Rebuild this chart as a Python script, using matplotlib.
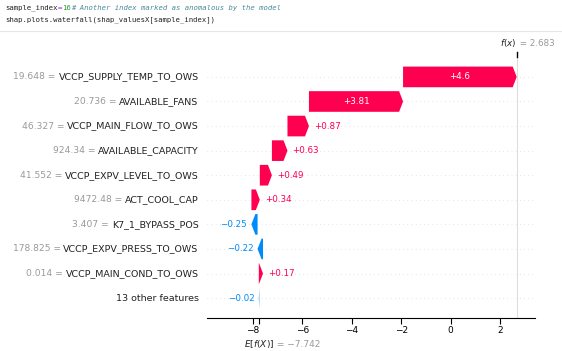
import numpy as np
import matplotlib
matplotlib.use("Agg")
import matplotlib.pyplot as plt
from matplotlib.patches import FancyArrow

# data (top row first)
features = ["VCCP_SUPPLY_TEMP_TO_OWS", "AVAILABLE_FANS", "VCCP_MAIN_FLOW_TO_OWS",
            "AVAILABLE_CAPACITY", "VCCP_EXPV_LEVEL_TO_OWS", "ACT_COOL_CAP",
            "K7_1_BYPASS_POS", "VCCP_EXPV_PRESS_TO_OWS", "VCCP_MAIN_COND_TO_OWS",
            "13 other features"]
feature_vals = ["19.648", "20.736", "46.327", "924.34", "41.552", "9472.48",
                "3.407", "178.825", "0.014", ""]
shap_vals = [4.6, 3.81, 0.87, 0.63, 0.49, 0.34, -0.25, -0.22, 0.17, -0.02]
base_value = -7.742
fx = 2.683
xticks = [-8, -6, -4, -2, 0, 2]

RED = "#ff0051"
BLUE = "#008bfb"
GRAY = "#999999"

fig = plt.figure(figsize=(5.62, 3.51), dpi=100)

# notebook code cell text
mono = "DejaVu Sans Mono"
fig.text(0.009, 0.977, "sample_index", family=mono, fontsize=5.2, va="center", color="#222222")
fig.text(0.009 + 12 * 0.00785, 0.977, "=", family=mono, fontsize=5.2, va="center", color="#aa22ff")
fig.text(0.009 + 13 * 0.00785, 0.977, "16", family=mono, fontsize=5.2, va="center", color="#2e9e2e")
fig.text(0.009 + 15 * 0.00785, 0.977, "# Another index marked as anomalous by the model",
         family=mono, fontsize=5.2, va="center", color="#4a8a9a", style="italic")
fig.text(0.009, 0.945, "shap.plots.waterfall(shap_valuesX[sample_index])", family=mono,
         fontsize=5.2, va="center", color="#222222")
fig.add_artist(plt.Line2D([0, 1], [0.912, 0.912], color="#e6e6e6", lw=0.8))

ax = fig.add_axes([207 / 562, 1 - 318 / 351, 328 / 562, 261 / 351])
n = len(features)
ax.set_xlim(-9.86, 3.42)
ax.set_ylim(-0.81, n - 1 + 0.81)

# cumulative positions from the bottom row upwards
rows = list(range(n - 1, -1, -1))
order = list(range(n - 1, -1, -1))
left = base_value
starts = [0] * n
for i in order:
    starts[i] = left
    left += shap_vals[i]

for r in range(n):
    ax.axhline(r, color="#cccccc", lw=0.5, dashes=(1, 5), zorder=-1)
ax.axvline(fx, color="#dddddd", lw=0.8, zorder=-1)

bar_h = 0.84
hl = 0.16
for i in range(n):
    y = rows[i]
    v = shap_vals[i]
    col = RED if v > 0 else BLUE
    head = min(hl, abs(v))
    arr = FancyArrow(starts[i], y, v, 0, width=bar_h, head_width=bar_h,
                     head_length=head, length_includes_head=True,
                     color=col, lw=0, zorder=2)
    ax.add_patch(arr)
    label = ("+" if v > 0 else "\u2212") + ("%g" % abs(v))
    if abs(v) > 2:
        ax.text(starts[i] + v / 2, y, label, color="white", fontsize=6.3,
                ha="center", va="center", zorder=3)
    elif v > 0:
        ax.annotate(label, (starts[i] + v, y), xytext=(3.5, 0), textcoords="offset points",
                    color=col, fontsize=6.3, ha="left", va="center")
    else:
        ax.annotate(label, (starts[i] + v, y), xytext=(-3, 0), textcoords="offset points",
                    color=col, fontsize=6.3, ha="right", va="center")

# feature labels: black name, grey value in front
for i in range(n):
    t = ax.annotate(features[i], (0, rows[i]), xycoords=("axes fraction", "data"),
                    xytext=(-6, 0), textcoords="offset points", ha="right",
                    va="center", fontsize=6.8, color="#222222")
    if feature_vals[i]:
        ax.annotate(feature_vals[i] + " = ", (0, 0.5), xycoords=t, ha="right",
                    va="center", fontsize=6.6, color=GRAY)

for s in ["top", "right", "left"]:
    ax.spines[s].set_visible(False)
ax.set_yticks([])
ax.set_xticks(xticks + [base_value])
ax.set_xticklabels(["\u2212%d" % -t if t < 0 else "%d" % t for t in xticks] + [""], fontsize=6.5)
ax.tick_params(axis="x", length=4, width=0.8, pad=1.5)

e = ax.annotate("$E[f(X)]$", (base_value, 0), xycoords=("data", "axes fraction"),
                xytext=(0, -14.5), textcoords="offset points", ha="center", va="top",
                fontsize=6.5, color="#222222")
ax.annotate(" = \u22127.742", (1, 0.5), xycoords=e, ha="left", va="center",
            fontsize=6.5, color=GRAY)

# top marker for f(x)
ax.plot([fx, fx], [1.0, 1.02], transform=ax.get_xaxis_transform(), color="black",
        lw=1, clip_on=False)
f = ax.annotate("$f(x)$", (fx, 1.03), xycoords=("data", "axes fraction"),
                ha="right", va="bottom", fontsize=6.3, color="#222222")
ax.annotate(" = 2.683", (1, 0.5), xycoords=f, ha="left", va="center",
            fontsize=6.3, color=GRAY)

fig.savefig("out.png", dpi=100)
